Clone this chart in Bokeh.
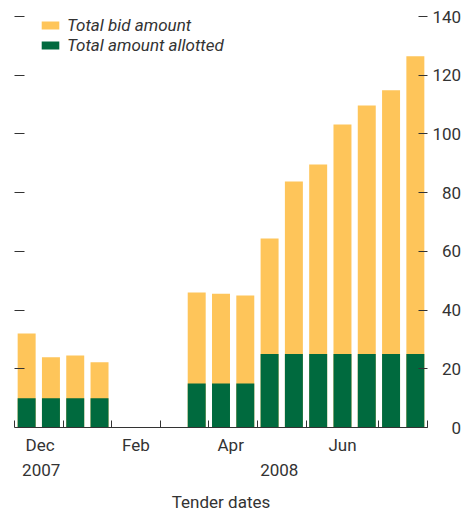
from bokeh.plotting import figure
from bokeh.models import (Range1d, LinearAxis, FixedTicker, Legend, LegendItem)
from bokeh.embed import file_html
from bokeh.resources import INLINE

# Tender slots (regular tender schedule, index), with bid and allotted amounts (USD bn)
tender_slot = [0, 1, 2, 3, 7, 8, 9, 10, 11, 12, 13, 14, 15, 16]
total_bid = [32.0, 23.9, 24.5, 22.2, 46.0, 45.6, 45.0, 64.4, 83.8, 89.6, 103.2, 109.7, 114.9, 126.5]
total_allotted = [10, 10, 10, 10, 15, 15, 15, 25, 25, 25, 25, 25, 25, 25]

y_ticks = [0, 20, 40, 60, 80, 100, 120, 140]
x_tick_marks = [-0.5, 1.5, 3.5, 5.5, 7.5, 9.5, 11.5, 14.5, 16.5]
month_labels = ["Dec", "Feb", "Apr", "Jun"]
month_pos = [0.55, 4.5, 8.4, 13.0]
year_labels = ["2007", "2008"]
year_pos = [0.6, 10.4]

FONT = "Roboto"
FS = "17px"
TXT = "#333333"
YELLOW = "#FEC55A"
GREEN = "#006A3E"

p = figure(frame_width=413, frame_height=411, output_backend="svg", toolbar_location=None,
           x_range=Range1d(-0.5, 16.5), y_range=Range1d(0, 140),
           x_axis_location=None, y_axis_location=None,
           min_border_left=14, min_border_right=0, min_border_top=16, min_border_bottom=0)
p.outline_line_color = None
p.grid.visible = False
p.background_fill_color = "white"
p.border_fill_color = "white"

r_bid = p.vbar(x=tender_slot, top=total_bid, bottom=0, width=0.74, fill_color=YELLOW, line_color=None)
r_all = p.vbar(x=tender_slot, top=total_allotted, bottom=0, width=0.74, fill_color=GREEN, line_color=None)

# left ticks only
ly = LinearAxis(ticker=FixedTicker(ticks=y_ticks[1:]), axis_line_color=None,
                major_tick_in=10, major_tick_out=0, major_tick_line_color=TXT,
                minor_tick_line_color=None, major_label_text_font_size="0px",
                major_label_standoff=0)
ly.major_label_overrides = {t: "" for t in y_ticks[1:]}
p.add_layout(ly, "left")

# right axis with labels
ry = LinearAxis(ticker=FixedTicker(ticks=y_ticks), axis_line_color=None,
                major_tick_in=9, major_tick_out=0, major_tick_line_color=TXT,
                minor_tick_line_color=None, major_label_text_font=FONT,
                major_label_text_font_size=FS, major_label_text_color=TXT,
                major_label_standoff=5)
ry.major_label_overrides = {t: ("\u2007" * (3 - len(str(t)))) + str(t) for t in y_ticks}
p.add_layout(ry, "right")

# bottom axis: tick marks
bx = LinearAxis(ticker=FixedTicker(ticks=x_tick_marks), axis_line_color=TXT,
                major_tick_in=7, major_tick_out=0, major_tick_line_color=TXT,
                minor_tick_line_color=None, major_label_text_font_size="0px",
                major_label_standoff=0)
bx.major_label_overrides = {t: "" for t in x_tick_marks}
p.add_layout(bx, "below")

# months
mx = LinearAxis(ticker=FixedTicker(ticks=month_pos), axis_line_color=None,
                major_tick_line_color=None, minor_tick_line_color=None,
                major_label_text_font=FONT, major_label_text_font_size=FS,
                major_label_text_color=TXT, major_label_standoff=1)
mx.major_label_overrides = dict(zip(month_pos, month_labels))
p.add_layout(mx, "below")

# years + axis title
yx = LinearAxis(ticker=FixedTicker(ticks=year_pos), axis_line_color=None,
                major_tick_line_color=None, minor_tick_line_color=None,
                major_label_text_font=FONT, major_label_text_font_size=FS,
                major_label_text_color=TXT, major_label_standoff=0,
                axis_label="Tender dates", axis_label_text_font=FONT,
                axis_label_text_font_size=FS, axis_label_text_font_style="normal",
                axis_label_text_color=TXT, axis_label_standoff=13)
yx.major_label_overrides = dict(zip(year_pos, year_labels))
p.add_layout(yx, "below")

legend = Legend(items=[LegendItem(label="Total bid amount", renderers=[r_bid]),
                       LegendItem(label="Total amount allotted", renderers=[r_all])],
                location=(25, 372), orientation="vertical",
                glyph_width=22, glyph_height=10, label_height=20, spacing=0,
                padding=0, margin=0, border_line_color=None, background_fill_alpha=0,
                label_text_font=FONT, label_text_font_size=FS,
                label_text_font_style="italic", label_text_color=TXT, label_standoff=6)
p.add_layout(legend)

open("out.html", "w").write(file_html(p, INLINE))
